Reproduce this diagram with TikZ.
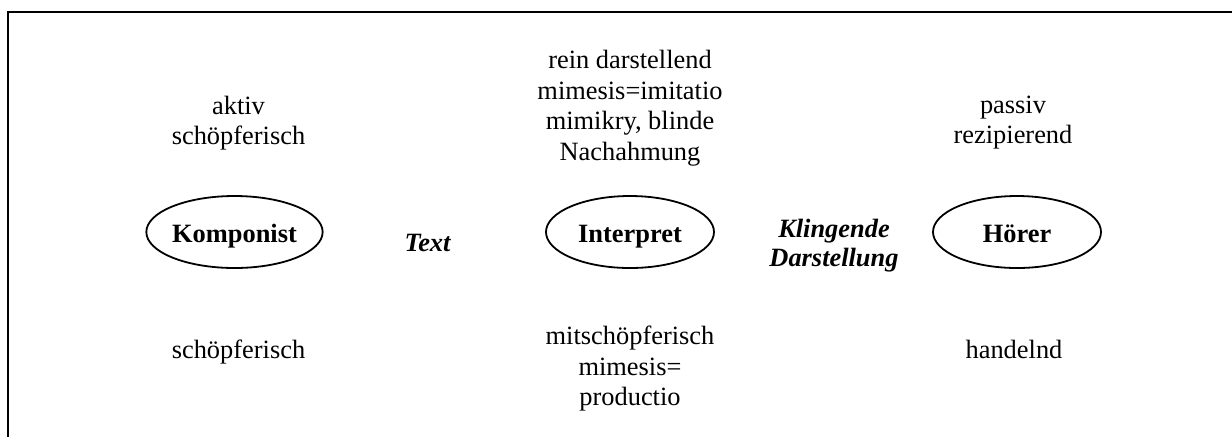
\documentclass[tikz,border=0pt]{standalone}
\usepackage{fontspec}
\setmainfont{Liberation Serif}
\usetikzlibrary{shapes.geometric}
\begin{document}
\begin{tikzpicture}[x=0.5pt,y=-0.5pt,
  every node/.style={font=\fontsize{13.2pt}{15.25pt}\selectfont, inner sep=0pt},
  role/.style={draw, ellipse, line width=0.9pt, minimum width=84pt, minimum height=36pt,
    font=\fontsize{13.2pt}{15.25pt}\selectfont\bfseries, text height=10pt, text depth=0pt},
  note/.style={align=center},
  medium/.style={align=center, font=\fontsize{13.2pt}{14.5pt}\selectfont\bfseries\itshape}]
\useasboundingbox (0,0) rectangle (1232,436);
\clip (0,0) rectangle (1232,436);
\fill[white] (0,0) rectangle (1232,436);
% frame
\coordinate (fbl) at (8.3,445);
\coordinate (ftl) at (8.3,12);
\coordinate (ftr) at (1245,12);
\draw[line width=1pt] (fbl) -- (ftl) -- (ftr);
% roles
\node[role] (komp) at (234.5,232) {Komponist};
\node[role] (interp) at (630,232) {Interpret};
\node[role] (hoer) at (1017,232) {Hörer};
% media
\node[medium] (text) at (427.5,242.5) {Text};
\node[medium] (klang) at (834,245.5) {Klingende\\Darstellung};
% upper notes
\node[note] (kompup) at (238.5,123) {aktiv\\schöpferisch};
\node[note] (interpup) at (630,108) {rein darstellend\\mimesis=imitatio\\mimikry, blinde\\Nachahmung};
\node[note] (hoerup) at (1013,122.5) {passiv\\rezipierend};
% lower notes
\node[note, anchor=base] (kompdn) at (238.5,358) {schöpferisch};
\node[note] (interpdn) at (630,369) {mitschöpferisch\\mimesis=\\productio};
\node[note, anchor=base] (hoerdn) at (1014,358) {handelnd};
\end{tikzpicture}
\end{document}
